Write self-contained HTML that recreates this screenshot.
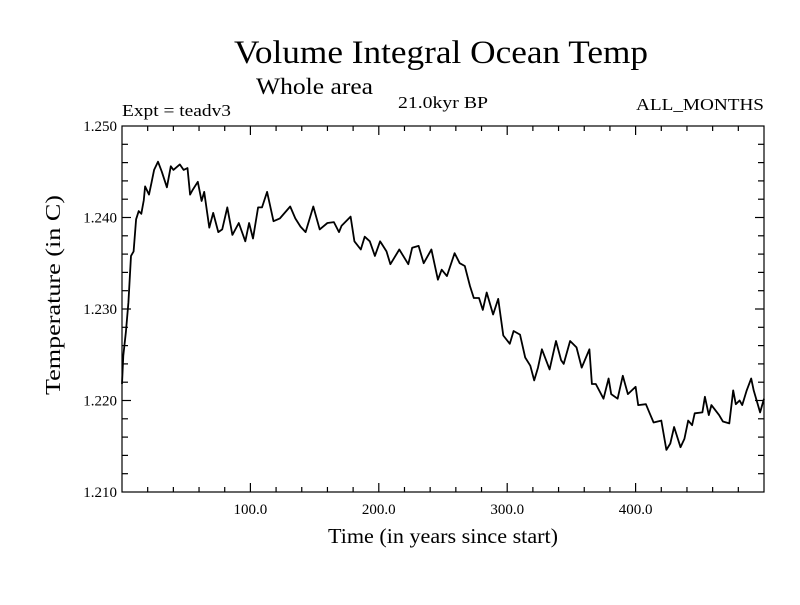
<!DOCTYPE html>
<html><head><meta charset="utf-8"><style>
body{margin:0;background:#fff;}
svg text{font-family:"Liberation Serif",serif;fill:#000;}
</style></head><body>
<svg id="chart" width="800" height="600" viewBox="0 0 800 600">
<rect width="800" height="600" fill="#fff"/>
<text x="441" y="63" font-size="33" textLength="414" lengthAdjust="spacingAndGlyphs" text-anchor="middle">Volume Integral Ocean Temp</text>
<text x="256" y="94" font-size="23" textLength="117" lengthAdjust="spacingAndGlyphs">Whole area</text>
<text x="122" y="116" font-size="17" textLength="109" lengthAdjust="spacingAndGlyphs">Expt = teadv3</text>
<text x="398" y="108" font-size="17" textLength="90" lengthAdjust="spacingAndGlyphs">21.0kyr BP</text>
<text x="636" y="110" font-size="17" textLength="128" lengthAdjust="spacingAndGlyphs">ALL_MONTHS</text>
<text x="328" y="543" font-size="21" textLength="230" lengthAdjust="spacingAndGlyphs">Time (in years since start)</text>
<text x="0" y="0" font-size="21" textLength="200" lengthAdjust="spacingAndGlyphs" text-anchor="middle" transform="translate(60,295) rotate(-90)">Temperature (in C)</text>
<g id="axes"></g>
<path id="series" fill="none" stroke="#000" stroke-width="1.8" stroke-linejoin="round"/>
<rect x="122" y="126" width="642" height="366" fill="none" stroke="#000" stroke-width="1.2"/>
</svg>
<script>
const years = [0,1,3,5,7,9,11,13,15,17,18,21,23,25,28,31,35,38,40,45,48,51,53,55,59,62,64,68,71,75,78,82,86,91,96,99,102,106,109,113,118,123,131,135,139,143,149,154,160,165,169,171,178,181,186,189,193,197,201,206,209,216,223,226,231,235,241,246,249,253,259,263,267,271,274,278,281,284,289,293,297,302,305,310,314,318,321,324,327,333,338,342,344,349,354,358,364,366,369,375,379,381,386,390,394,400,402,408,411,414,420,424,427,430,435,438,441,444,446,452,454,457,459,465,468,473,476,478,481,483,486.5,490,492,497,500];
const temps = [1.2218,1.2249,1.2275,1.2307,1.2358,1.2363,1.2398,1.2407,1.2404,1.2419,1.2434,1.2425,1.2438,1.2452,1.2461,1.2450,1.2433,1.2456,1.2452,1.2458,1.2452,1.2454,1.2425,1.2430,1.2439,1.2418,1.2428,1.2389,1.2405,1.2384,1.2387,1.2411,1.2381,1.2394,1.2374,1.2394,1.2377,1.2411,1.2411,1.2428,1.2396,1.2399,1.2412,1.2399,1.2390,1.2384,1.2412,1.2387,1.2394,1.2395,1.2384,1.2391,1.2401,1.2374,1.2365,1.2379,1.2374,1.2358,1.2374,1.2363,1.2349,1.2365,1.2349,1.2367,1.2369,1.2350,1.2365,1.2332,1.2343,1.2336,1.2361,1.2350,1.2347,1.2325,1.2312,1.2312,1.2299,1.2318,1.2294,1.2311,1.2271,1.2262,1.2276,1.2272,1.2247,1.2238,1.2222,1.2236,1.2256,1.2234,1.2265,1.2244,1.2240,1.2265,1.2258,1.2236,1.2256,1.2218,1.2218,1.2202,1.2224,1.2207,1.2202,1.2227,1.2207,1.2215,1.2195,1.2196,1.2186,1.2176,1.2178,1.2146,1.2153,1.2171,1.2149,1.2158,1.2178,1.2173,1.2186,1.2187,1.2204,1.2184,1.2195,1.2184,1.2177,1.2175,1.2211,1.2196,1.2200,1.2195,1.2211,1.2224,1.2211,1.2187,1.2202];
const xTickLabels = ["100.0","200.0","300.0","400.0"];
const xTickValues = [100,200,300,400];
const yTickLabels = ["1.210","1.220","1.230","1.240","1.250"];
const yTickValues = [1.210,1.220,1.230,1.240,1.250];

const L=122,R=764,T=126,B=492,XMIN=0,XMAX=500,YMIN=1.210,YMAX=1.250;
const xs=v=>L+(v-XMIN)/(XMAX-XMIN)*(R-L);
const ys=v=>B-(v-YMIN)/(YMAX-YMIN)*(B-T);
const NS="http://www.w3.org/2000/svg";
const g=document.getElementById('axes');
function line(x1,y1,x2,y2,name){
  const l=document.createElementNS(NS,'line');
  l.setAttribute('x1',x1);l.setAttribute('y1',y1);l.setAttribute('x2',x2);l.setAttribute('y2',y2);
  l.setAttribute('stroke','#000');l.setAttribute('stroke-width','1.2');
  
  
  g.appendChild(l);
}
function text(x,y,s,anchor,name){
  const t=document.createElementNS(NS,'text');
  t.setAttribute('x',x);t.setAttribute('y',y);t.setAttribute('font-size','15');t.setAttribute('text-anchor',anchor);
  t.textContent=s;
  
  
  g.appendChild(t);
}
for(let v=20;v<XMAX;v+=20){
  const x=xs(v);const major=v%100===0;const len=major?9:5;
  line(x,B,x,B-len,'x-tick');
  line(x,T,x,T+len,'x-tick-top');
}
for(let k=1;k<20;k++){
  const v=YMIN+k*0.002;const y=ys(v);const major=k%5===0;const len=major?9:6;
  line(L,y,L+len,y,'y-tick');
  line(R,y,R-len,y,'y-tick-right');
}
xTickValues.forEach((v,i)=>text(xs(v),B+22,xTickLabels[i],'middle','x-tick-label'));
yTickValues.forEach((v,i)=>text(L-5,ys(v)+5,yTickLabels[i],'end','y-tick-label'));
let d='';
years.forEach((yr,i)=>{d+=(i?'L':'M')+xs(yr).toFixed(1)+','+ys(temps[i]).toFixed(1);});
document.getElementById('series').setAttribute('d',d);
</script>
</body></html>
